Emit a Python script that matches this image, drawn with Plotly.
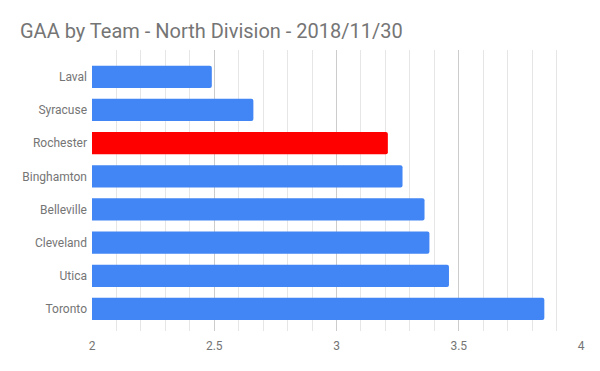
import plotly.graph_objects as go

teams = ["Laval", "Syracuse", "Rochester", "Binghamton", "Belleville", "Cleveland", "Utica", "Toronto"]
gaa = [2.49, 2.66, 3.21, 3.27, 3.36, 3.38, 3.46, 3.85]
highlight = "Rochester"
x_ticks = [2, 2.5, 3, 3.5, 4]
x_tick_labels = ["2", "2.5", "3", "3.5", "4"]

colors = ["#FF0000" if t == highlight else "#4285F4" for t in teams]

fig = go.Figure(go.Bar(
    x=gaa, y=teams, orientation="h",
    marker=dict(color=colors, line=dict(width=0), cornerradius=2),
    base=0,
    hoverinfo="x+y",
))

fig.update_layout(
    width=600, height=371,
    margin=dict(l=91.5, r=19, t=50, b=40),
    paper_bgcolor="white", plot_bgcolor="white",
    font=dict(family="Roboto", size=12, color="#757575"),
    title=dict(text="GAA by Team - North Division - 2018/11/30", x=20/600, xanchor="left",
               y=1 - 31/371, yanchor="middle",
               font=dict(family="Roboto", size=20, color="#757575")),
    bargap=0.33,
    showlegend=False,
)
fig.update_xaxes(
    range=[2, 4], tickvals=x_ticks, ticktext=x_tick_labels,
    showgrid=True, gridcolor="#cccccc", gridwidth=1,
    minor=dict(dtick=0.1, tick0=2, showgrid=True, gridcolor="#e6e6e6", gridwidth=1),
    zeroline=False, showline=False, ticks="", ticklabelstandoff=6,
)
fig.update_yaxes(
    categoryorder="array", categoryarray=teams,
    range=[7.664, -0.808],
    showgrid=False, zeroline=False, showline=False, ticks="", ticklabelstandoff=4,
)

fig.write_html("out.html", config={"displayModeBar": False},
               post_script="document.body.style.margin='0';")
